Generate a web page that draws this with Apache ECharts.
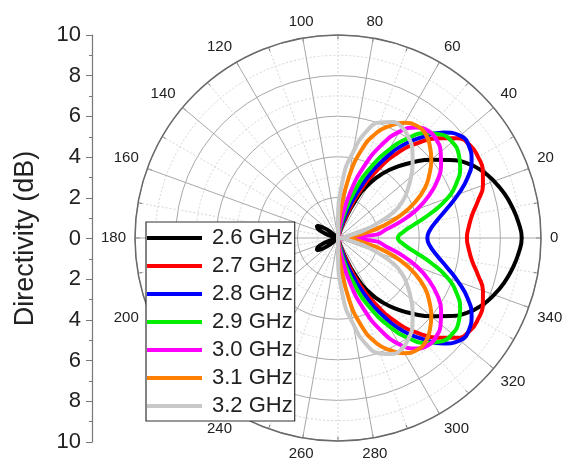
<!DOCTYPE html>
<html>
<head>
<meta charset="utf-8">
<script src="https://cdn.jsdelivr.net/npm/echarts@6/dist/echarts.min.js"></script>
<style>
  html, body { margin: 0; padding: 0; background: #fff; }
  #chart { width: 566px; height: 465px; }
</style>
</head>
<body>
<div id="chart"></div>
<script>
// angle in degrees, 0..355 step 5 (counter-clockwise from the right)
var angles = [];
for (var a = 0; a < 360; a += 5) angles.push(a);

var names = ['2.6 GHz', '2.7 GHz', '2.8 GHz', '2.9 GHz', '3.0 GHz', '3.1 GHz', '3.2 GHz'];
var colors = ['#000000', '#ff0000', '#0000ff', '#00ee00', '#ff00ff', '#ff8000', '#c8c8c8'];

// directivity (dB), rows: 0-85, 90-175, 180-265, 270-355 deg; 0 = clipped at the centre
var d26 = [].concat(
	[9.05, 8.92, 8.72, 8.48, 8.18, 7.83, 7.36, 6.7, 6.0, 5.3, 4.6, 3.9, 3.1, 2.05, 0.8, 0.1, 0, 0],
	[0, 0, 0, 0, 0, 0, 0, 0, 0, 0, 0.4, 0.9, 1.2, 1.1, 0.7, 0.3, 0, 0],
	[0, 0, 0, 0.3, 0.7, 1.1, 1.2, 0.9, 0.4, 0, 0, 0, 0, 0, 0, 0, 0, 0],
	[0, 0, 0, 0.1, 0.8, 2.05, 3.1, 3.9, 4.6, 5.3, 6.0, 6.7, 7.36, 7.83, 8.18, 8.48, 8.72, 8.92]);
var d27 = [].concat(
	[6.35, 6.47, 6.72, 7.15, 7.6, 7.87, 7.97, 7.95, 7.65, 6.95, 6.1, 5.1, 3.85, 2.5, 1.1, 0.2, 0, 0],
	[0, 0, 0, 0, 0, 0, 0, 0, 0, 0, 0, 0, 0, 0, 0, 0, 0, 0],
	[0, 0, 0, 0, 0, 0, 0, 0, 0, 0, 0, 0, 0, 0, 0, 0, 0, 0],
	[0, 0, 0, 0.2, 1.1, 2.5, 3.85, 5.1, 6.1, 6.95, 7.65, 7.95, 7.97, 7.87, 7.6, 7.15, 6.72, 6.47]);
var d28 = [].concat(
	[4.4, 4.55, 4.95, 5.55, 6.3, 7.05, 7.6, 7.88, 7.85, 7.35, 6.5, 5.6, 4.4, 3.05, 1.7, 0.5, 0, 0],
	[0, 0, 0, 0, 0, 0, 0, 0, 0, 0, 0, 0, 0, 0, 0, 0, 0, 0],
	[0, 0, 0, 0, 0, 0, 0, 0, 0, 0, 0, 0, 0, 0, 0, 0, 0, 0],
	[0, 0, 0, 0.5, 1.7, 3.05, 4.4, 5.6, 6.5, 7.35, 7.85, 7.88, 7.6, 7.05, 6.3, 5.55, 4.95, 4.55]);
var d29 = [].concat(
	[2.95, 3.2, 3.8, 4.75, 5.75, 6.45, 6.95, 7.25, 7.35, 7.2, 6.75, 6.0, 5.0, 3.85, 2.6, 1.3, 0.2, 0],
	[0, 0, 0, 0, 0, 0, 0, 0, 0, 0, 0, 0, 0, 0, 0, 0, 0, 0],
	[0, 0, 0, 0, 0, 0, 0, 0, 0, 0, 0, 0, 0, 0, 0, 0, 0, 0],
	[0, 0, 0.2, 1.3, 2.6, 3.85, 5.0, 6.0, 6.75, 7.2, 7.35, 7.25, 6.95, 6.45, 5.75, 4.75, 3.8, 3.2]);
var d30 = [].concat(
	[0, 1.9, 2.4, 3.25, 4.15, 4.95, 5.65, 6.2, 6.6, 6.85, 6.9, 6.65, 6.05, 5.05, 3.75, 2.3, 0.8, 0],
	[0, 0, 0, 0, 0, 0, 0, 0, 0, 0, 0, 0, 0, 0, 0, 0, 0, 0],
	[0, 0, 0, 0, 0, 0, 0, 0, 0, 0, 0, 0, 0, 0, 0, 0, 0, 0],
	[0, 0, 0.8, 2.3, 3.75, 5.05, 6.05, 6.65, 6.9, 6.85, 6.6, 6.2, 5.65, 4.95, 4.15, 3.25, 2.4, 1.9]);
var d31 = [].concat(
	[0, 0.6, 1.3, 2.3, 3.3, 4.2, 4.95, 5.5, 6.0, 6.4, 6.7, 6.75, 6.55, 6.1, 5.5, 4.5, 3.0, 1.2],
	[0, 0, 0, 0, 0, 0, 0, 0, 0, 0, 0, 0, 0, 0, 0, 0, 0, 0],
	[0, 0, 0, 0, 0, 0, 0, 0, 0, 0, 0, 0, 0, 0, 0, 0, 0, 0],
	[0, 1.2, 3.0, 4.5, 5.5, 6.1, 6.55, 6.75, 6.7, 6.4, 6.0, 5.5, 4.95, 4.2, 3.3, 2.3, 1.3, 0.6]);
var d32 = [].concat(
	[0, 0.1, 0.4, 1.1, 2.0, 3.05, 3.7, 4.2, 4.7, 5.2, 5.7, 6.05, 6.3, 6.3, 6.05, 5.45, 4.3, 3.0],
	[0.6, 0, 0, 0, 0, 0, 0, 0, 0, 0, 0, 0, 0, 0, 0, 0, 0, 0],
	[0, 0, 0, 0, 0, 0, 0, 0, 0, 0, 0, 0, 0, 0, 0, 0, 0, 0],
	[0.6, 3.0, 4.3, 5.45, 6.05, 6.3, 6.3, 6.05, 5.7, 5.2, 4.7, 4.2, 3.7, 3.05, 2.0, 1.1, 0.4, 0.1]);

var values = [d26, d27, d28, d29, d30, d31, d32];

// start and end the path at 180 deg (the centre) so the front lobe is drawn smooth
function buildData(vals) {
	var out = [];
	var n = angles.length;
	for (var k = 0; k <= n; k++) {
		var i = (k + n / 2) % n;
		var ang = angles[i] < 180 ? angles[i] + 360 : angles[i];
		if (k == n) ang = 540;
		out.push([vals[i], ang]);
	}
	return out;
}

var font = 'Arial, "Liberation Sans", sans-serif';
var series = [];
for (var s = 0; s < names.length; s++) {
	series.push({
		name: names[s],
		type: 'line',
		coordinateSystem: 'polar',
		data: buildData(values[s]),
		smooth: 0.5,
		showSymbol: false,
		symbol: 'none',
		lineStyle: { color: colors[s], width: 4 },
		itemStyle: { color: colors[s] },
		animation: false
	});
}

var myChart = echarts.init(document.getElementById('chart'));
var option = {
	backgroundColor: '#fff',
	animation: false,
	textStyle: { fontFamily: font },
	polar: {
		center: [338, 238],
		radius: 203
	},
	angleAxis: {
		type: 'value',
		min: 180,
		max: 540,
		interval: 20,
		startAngle: 180,
		clockwise: false,
		axisLine: { lineStyle: { color: '#6a6a6a', width: 1.5 } },
		axisTick: { show: true, inside: true, length: 5, lineStyle: { color: '#6a6a6a' } },
		minorTick: { show: true, splitNumber: 2, length: 4, lineStyle: { color: '#6a6a6a' } },
		axisLabel: {
			margin: 9,
			fontSize: 15,
			color: '#222',
			fontFamily: font,
			formatter: function (v) {
				if (v == 540) return '';
				return String(v % 360);
			}
		},
		splitLine: { show: true, lineStyle: { color: '#a8a8a8', width: 1 } },
		minorSplitLine: { show: true, lineStyle: { color: '#d6d6d6', width: 1, type: [2, 2] } }
	},
	radiusAxis: {
		type: 'value',
		min: 0,
		max: 10,
		interval: 2,
		axisLine: { show: false },
		axisTick: { show: false },
		axisLabel: { show: false },
		minorTick: { show: false, splitNumber: 2 },
		splitLine: { show: true, lineStyle: { color: '#a8a8a8', width: 1 } },
		minorSplitLine: { show: true, lineStyle: { color: '#d6d6d6', width: 1, type: [2, 2] } }
	},
	grid: {
		left: 92,
		top: 35,
		width: 1,
		height: 407
	},
	xAxis: { type: 'value', show: false, min: 0, max: 1 },
	yAxis: {
		type: 'value',
		min: -10,
		max: 10,
		interval: 2,
		name: 'Directivity (dB)',
		nameLocation: 'middle',
		nameGap: 53,
		nameTextStyle: { fontSize: 27, color: '#222', fontFamily: font },
		axisLine: { show: true, lineStyle: { color: '#777', width: 1.2 } },
		axisTick: { show: true, inside: false, length: 6, lineStyle: { color: '#777' } },
		minorTick: { show: true, splitNumber: 2, length: 3, lineStyle: { color: '#777' } },
		axisLabel: {
			margin: 11,
			fontSize: 22,
			color: '#222',
			fontFamily: font,
			formatter: function (v) { return String(Math.abs(v)); }
		},
		splitLine: { show: false }
	},
	legend: {
		orient: 'vertical',
		left: 146,
		top: 222,
		padding: [5, 2, 4, 1],
		itemGap: 6,
		itemWidth: 55,
		itemHeight: 4,
		icon: 'rect',
		backgroundColor: '#fff',
		borderColor: '#333',
		borderWidth: 1.2,
		borderRadius: 0,
		textStyle: { fontSize: 22, color: '#222', fontFamily: font, padding: [0, 0, 0, 5] },
		data: names
	},
	series: series
};
myChart.setOption(option);
</script>
</body>
</html>
